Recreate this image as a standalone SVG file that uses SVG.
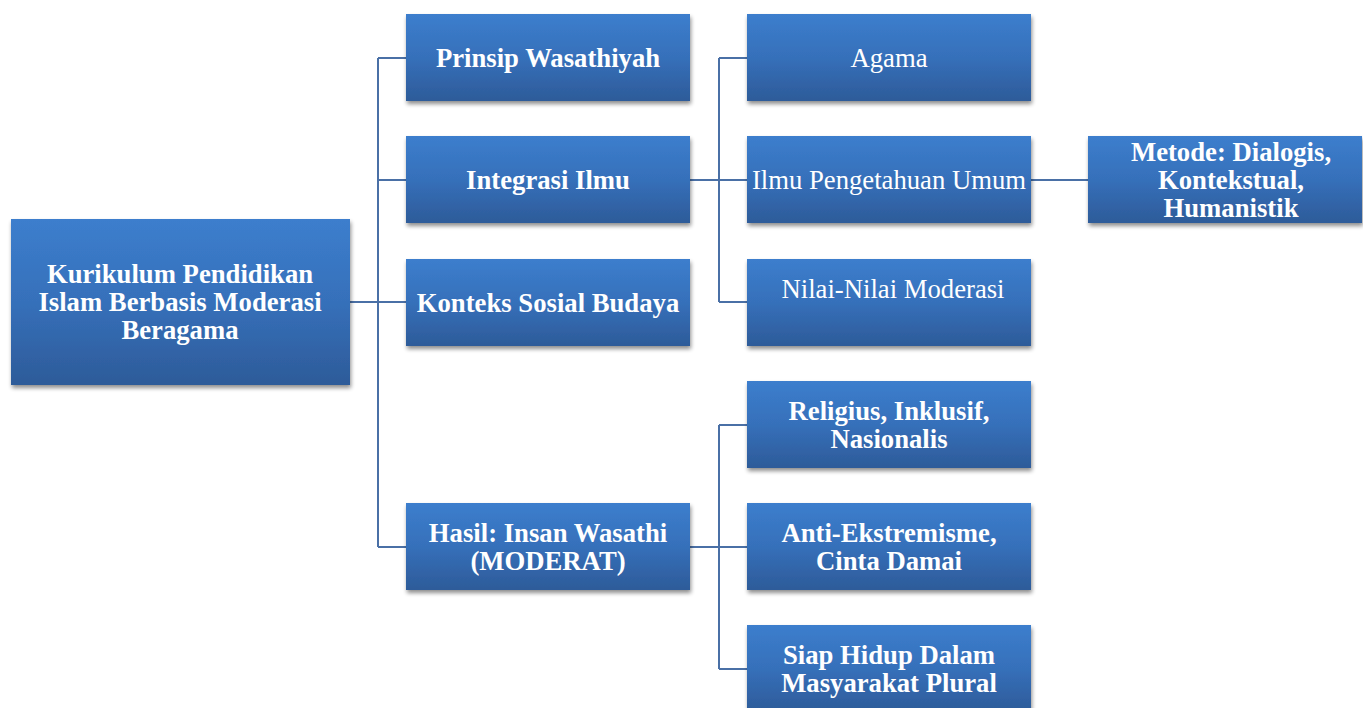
<svg xmlns="http://www.w3.org/2000/svg" width="1363" height="708" viewBox="0 0 1363 708">
<defs>
<linearGradient id="g" x1="0" y1="0" x2="0" y2="1">
<stop offset="0" stop-color="#3C7ECD"/>
<stop offset="0.5" stop-color="#3670BA"/>
<stop offset="1" stop-color="#2D5B99"/>
</linearGradient>
<filter id="sh" x="-10%" y="-10%" width="125%" height="130%">
<feGaussianBlur in="SourceAlpha" stdDeviation="2"/>
<feOffset dx="1" dy="3" result="b"/>
<feComponentTransfer><feFuncA type="linear" slope="0.45"/></feComponentTransfer>
<feMerge><feMergeNode/><feMergeNode in="SourceGraphic"/></feMerge>
</filter>
</defs>
<style>
.box{fill:url(#g);filter:url(#sh)}
.t{font-family:"Liberation Serif","Times New Roman",serif;font-size:26.7px;fill:#fff;text-anchor:middle}
.b{font-weight:bold}
.c{fill:none;stroke:#4A70A6;stroke-width:2}
</style>
<rect width="1363" height="708" fill="#fff"/>
<g id="connectors">
<path class="c" d="M350 302H378M378 58V547M378 58H406M378 180H406M378 302H406M378 547H406"/>
<path class="c" d="M690 180H719M719 58V302M719 58H747M719 180H747M719 302H747"/>
<path class="c" d="M690 547H719M719 425V669M719 425H747M719 547H747M719 669H747"/>
<path class="c" d="M1031 180H1088"/>
</g>
<g id="root"><rect class="box" x="11" y="219" width="339" height="166"/>
<text class="t b" x="180" y="283">Kurikulum Pendidikan</text>
<text class="t b" x="180" y="311">Islam Berbasis Moderasi</text>
<text class="t b" x="180" y="339">Beragama</text></g>
<g id="prinsip"><rect class="box" x="406" y="14" width="284" height="87"/>
<text class="t b" x="548" y="67">Prinsip Wasathiyah</text></g>
<g id="integrasi"><rect class="box" x="406" y="136" width="284" height="87"/>
<text class="t b" x="548" y="189">Integrasi Ilmu</text></g>
<g id="konteks"><rect class="box" x="406" y="259" width="284" height="87"/>
<text class="t b" x="548" y="312">Konteks Sosial Budaya</text></g>
<g id="hasil"><rect class="box" x="406" y="503" width="284" height="87"/>
<text class="t b" x="548" y="542">Hasil: Insan Wasathi</text>
<text class="t b" x="548" y="570">(MODERAT)</text></g>
<g id="agama"><rect class="box" x="747" y="14" width="284" height="87"/>
<text class="t" x="889" y="67">Agama</text></g>
<g id="ilmu"><rect class="box" x="747" y="136" width="284" height="87"/>
<text class="t" x="889" y="189">Ilmu Pengetahuan Umum</text></g>
<g id="nilai"><rect class="box" x="747" y="259" width="284" height="87"/>
<text class="t" x="893" y="298">Nilai-Nilai Moderasi</text></g>
<g id="religius"><rect class="box" x="747" y="381" width="284" height="87"/>
<text class="t b" x="889" y="420">Religius, Inklusif,</text>
<text class="t b" x="889" y="448">Nasionalis</text></g>
<g id="anti"><rect class="box" x="747" y="503" width="284" height="87"/>
<text class="t b" x="889" y="542">Anti-Ekstremisme,</text>
<text class="t b" x="889" y="570">Cinta Damai</text></g>
<g id="siap"><rect class="box" x="747" y="625" width="284" height="87"/>
<text class="t b" x="889" y="664">Siap Hidup Dalam</text>
<text class="t b" x="889" y="692">Masyarakat Plural</text></g>
<g id="metode"><rect class="box" x="1088" y="136" width="274" height="87"/>
<text class="t b" x="1231" y="161">Metode: Dialogis,</text>
<text class="t b" x="1231" y="189">Kontekstual,</text>
<text class="t b" x="1231" y="217">Humanistik</text></g>
</svg>
